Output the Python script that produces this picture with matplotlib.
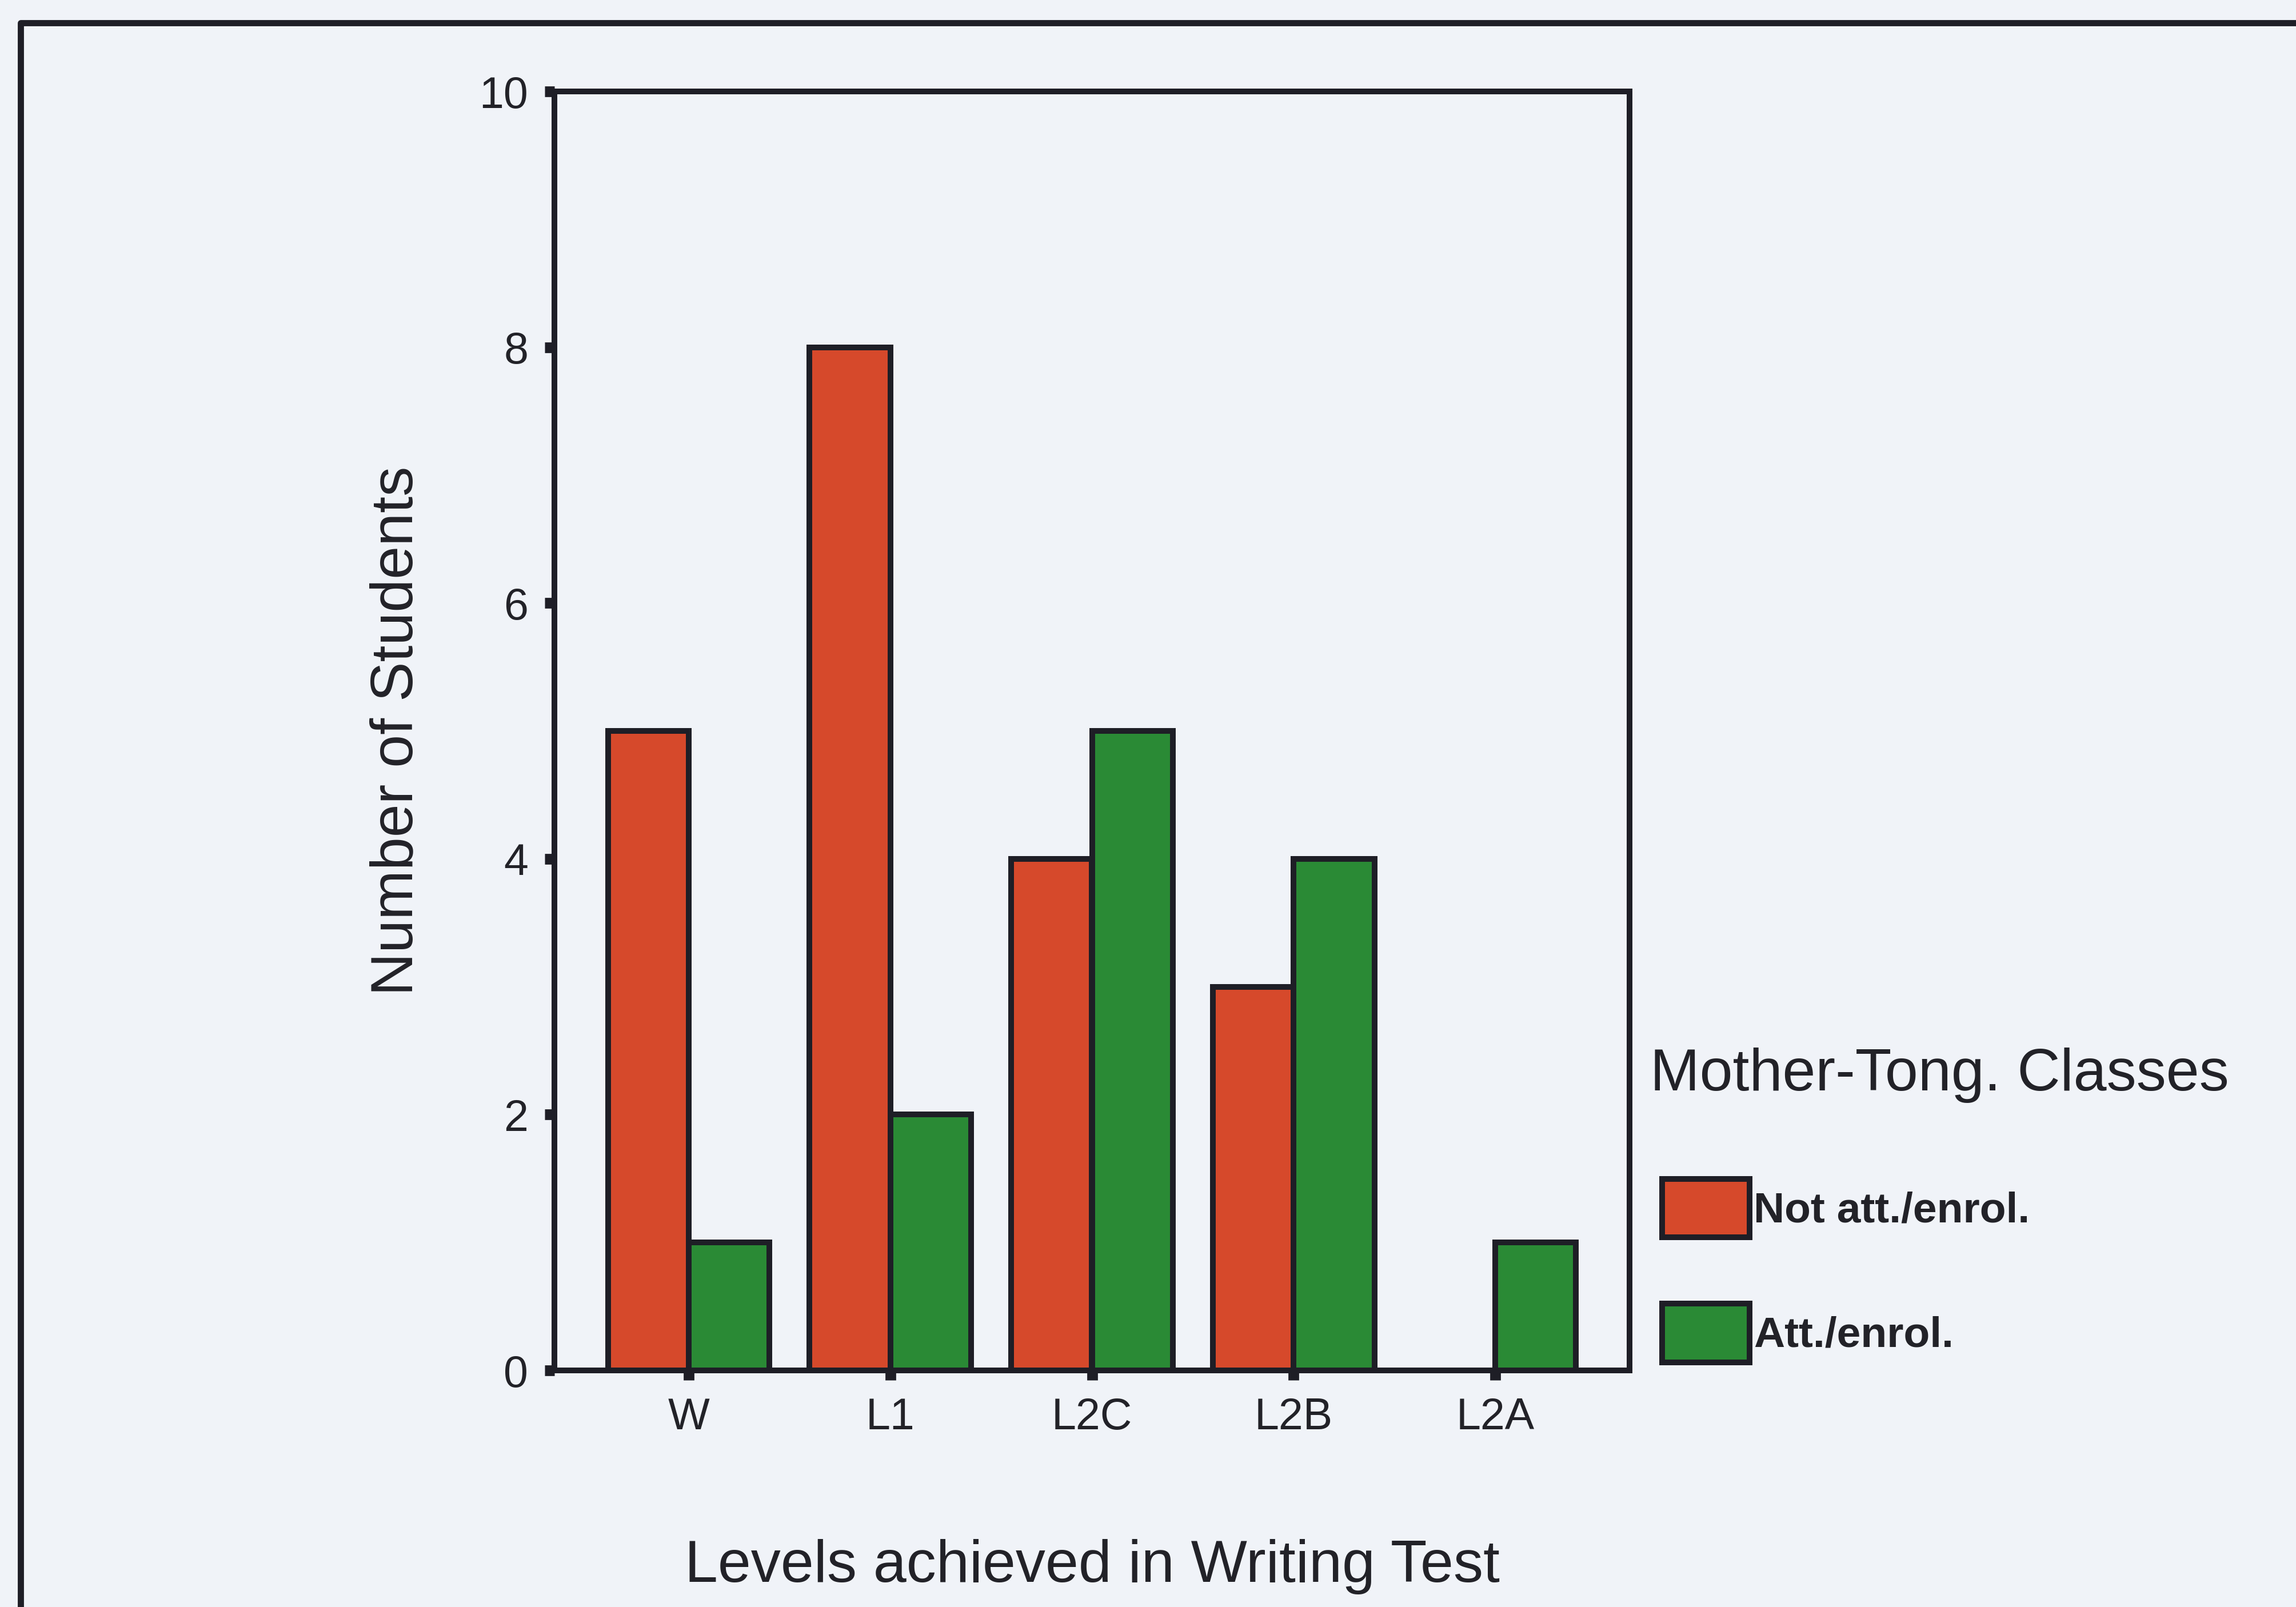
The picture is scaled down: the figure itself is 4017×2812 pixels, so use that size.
import matplotlib
matplotlib.use("Agg")
import matplotlib.pyplot as plt
from matplotlib.lines import Line2D
import numpy as np

plt.rcParams['font.family'] = ['Liberation Sans', 'DejaVu Sans']

categories = ["W", "L1", "L2C", "L2B", "L2A"]
not_attended = [5, 8, 4, 3, 0]
attended = [1, 2, 5, 4, 1]
series_labels = ["Not att./enrol.", "Att./enrol."]
legend_title = "Mother-Tong. Classes"
y_ticks = [0, 2, 4, 6, 8, 10]

W, H = 4017, 2812
DPI = 300
bg = '#f0f3f8'
red = '#d6492b'
green = '#2a8a35'
edge = '#1e1e26'
txt = '#222228'

fig = plt.figure(figsize=(W / DPI, H / DPI), dpi=DPI, facecolor=bg)
ax = fig.add_axes([970 / W, 1 - 2398 / H, (2851 - 970) / W, (2398 - 160) / H])
ax.set_facecolor(bg)

x = np.arange(len(categories))
bw = 0.4
b1 = ax.bar(x - bw / 2, not_attended, bw, color=red, edgecolor=edge, linewidth=2.4, label=series_labels[0])
b2 = ax.bar(x + bw / 2, attended, bw, color=green, edgecolor=edge, linewidth=2.4, label=series_labels[1])

ax.set_xlim(-0.665, 4.665)
ax.set_ylim(0, 10)
ax.set_yticks(y_ticks)
ax.set_xticks(x)
ax.set_xticklabels(categories)

for s in ax.spines.values():
    s.set_linewidth(2.4)
    s.set_color(edge)
ax.tick_params(axis='both', direction='out', length=4, width=4.5, color=edge,
               labelsize=18.5, labelcolor=txt, pad=7)

ax.set_xlabel("Levels achieved in Writing Test", fontsize=25, color=txt)
ax.xaxis.set_label_coords(0.5, -0.132)
ax.set_ylabel("Number of Students", fontsize=25, color=txt)
ax.yaxis.set_label_coords((743 - 970) / (2851 - 970), 0.5)

# legend
fig.text(2887 / W, 1 - 1908 / H, legend_title, fontsize=25, color=txt, ha='left', va='baseline')
leg = ax.legend(handles=[b1, b2], labels=series_labels, loc='upper left',
                bbox_to_anchor=(2908 / W, 1 - 2063 / H), bbox_transform=fig.transFigure,
                frameon=False, borderpad=0, borderaxespad=0,
                handlelength=2.04, handleheight=1.72, handletextpad=0.1,
                labelspacing=1.55, prop={'weight': 'bold', 'size': 18})
for t in leg.get_texts():
    t.set_color(txt)

# outer frame
fr = Line2D([36 / W, 36 / W, 1.01], [-0.01, 1 - 40 / H, 1 - 40 / H],
            transform=fig.transFigure, color=edge, linewidth=2.6)
fig.add_artist(fr)

fig.savefig("out.png", dpi=DPI, facecolor=bg)
